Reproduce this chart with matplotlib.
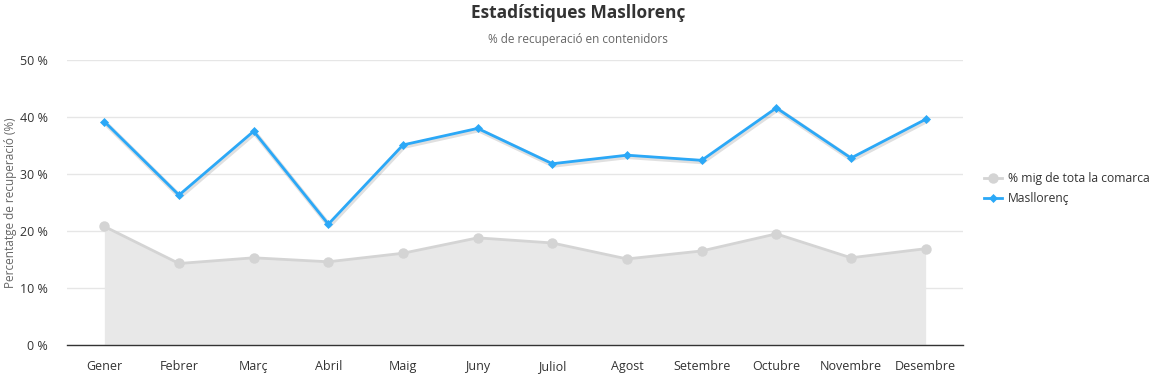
import matplotlib.pyplot as plt
import matplotlib.transforms as mtransforms

plt.rcParams["font.family"] = ["Open Sans", "DejaVu Sans"]

months = ["Gener", "Febrer", "Març", "Abril", "Maig", "Juny",
          "Juliol", "Agost", "Setembre", "Octubre", "Novembre", "Desembre"]
comarca = [20.8, 14.3, 15.3, 14.6, 16.1, 18.8, 17.9, 15.1, 16.5, 19.5, 15.3, 16.9]
masllorenc = [39.2, 26.3, 37.5, 21.2, 35.1, 38.0, 31.8, 33.3, 32.4, 41.6, 32.8, 39.6]
yticks = [0, 10, 20, 30, 40, 50]

W, H = 1156, 379
fig = plt.figure(figsize=(W / 100, H / 100), dpi=100)
ax = fig.add_axes([67 / W, (H - 345) / H, (963 - 67) / W, (345 - 60) / H])

x = list(range(len(months)))

ax.fill_between(x, comarca, 0, color="#e8e8e8", lw=0, zorder=1)
ax.plot(x, comarca, color="#d4d4d4", lw=2, marker="o", ms=6.5,
        mfc="#d4d4d4", mec="#d4d4d4", zorder=2, label="% mig de tota la comarca")
# soft shadow under the blue line
shadow = ax.transData + mtransforms.ScaledTranslation(1 / 100, -1.5 / 100, fig.dpi_scale_trans)
ax.plot(x, masllorenc, color="#000000", lw=3.5, alpha=0.12, zorder=2.5, transform=shadow)
ax.plot(x, masllorenc, color="#2ba8f7", lw=2, marker="D", ms=4.5,
        mew=0.5, zorder=3, label="Masllorenç")

ax.set_xlim(-0.5, len(months) - 0.5)
ax.set_ylim(0, 50)
ax.set_xticks(x)
ax.set_xticklabels(months, fontsize=9, color="#333333")
ax.set_yticks(yticks)
ax.set_yticklabels([f"{v} %" for v in yticks], fontsize=9, color="#333333")
ax.tick_params(axis="both", length=0)
ax.tick_params(axis="x", pad=11)
ax.tick_params(axis="y", pad=14)
ax.grid(axis="y", color="#e6e6e6", lw=1)
ax.set_axisbelow(True)
for s in ["top", "right", "left"]:
    ax.spines[s].set_visible(False)
ax.spines["bottom"].set_color("#333333")
ax.spines["bottom"].set_linewidth(1)
ax.spines["bottom"].set_zorder(4)

ax.set_ylabel("Percentatge de recuperació (%)", fontsize=8.5, color="#666666")
ax.yaxis.set_label_coords(-0.056, 0.5)

fig.text(0.5, 1 - 13 / H, "Estadístiques Masllorenç", ha="center", va="center",
         fontsize=12.5, fontweight="bold", color="#333333")
fig.text(0.5, 1 - 39 / H, "% de recuperació en contenidors", ha="center", va="center",
         fontsize=8.5, color="#666666")

leg = fig.legend(loc="upper left", bbox_to_anchor=(984 / W, 1 - 172 / H), frameon=False,
                 fontsize=8.7, handlelength=1.5, handletextpad=0.5, labelspacing=0.6,
                 labelcolor="#333333", borderaxespad=0, borderpad=0)

fig.savefig("out.png", dpi=100)
